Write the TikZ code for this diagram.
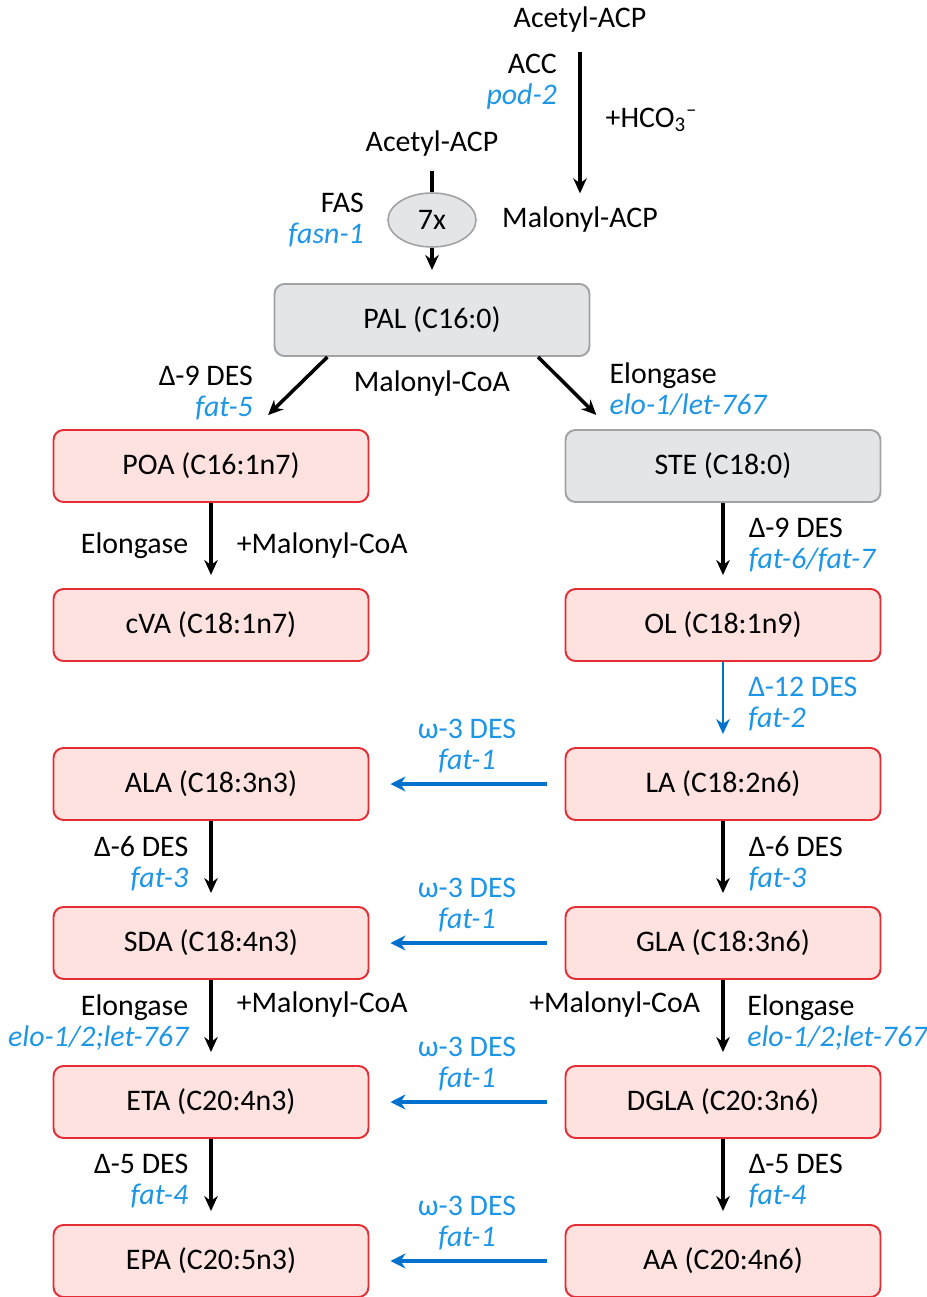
\documentclass[tikz,border=0pt]{standalone}
\usepackage{fontspec}
\setmainfont{Carlito}
\usetikzlibrary{arrows.meta,positioning,calc,shapes.geometric}

\definecolor{boxred}{RGB}{228,45,52}
\definecolor{boxpink}{RGB}{253,226,223}
\definecolor{boxgray}{RGB}{228,229,231}
\definecolor{linegray}{RGB}{160,162,165}
\definecolor{geneblue}{RGB}{30,150,230}
\definecolor{arrowblue}{RGB}{0,114,206}
\newcommand{\gene}[1]{{\color{geneblue}\itshape #1}}

\tikzset{
  acid/.style={draw=boxred, fill=boxpink, line width=1.1pt, rounded corners=0.2cm,
               minimum width=6.3cm, minimum height=1.44cm, font=\fontsize{17}{17.6}\selectfont},
  sat/.style={acid, draw=linegray, fill=boxgray},
  lbl/.style={font=\fontsize{17}{17.6}\selectfont, inner sep=2pt},
  rxn/.style={-{Stealth[length=0.3cm,width=0.27cm]}, line width=2pt, shorten >=0.26cm},
  omega/.style={-{Stealth[length=0.3cm,width=0.3cm]}, draw=arrowblue, line width=2.6pt,
                shorten <=0.36cm, shorten >=0.42cm}
}

\begin{document}
\begin{tikzpicture}[node distance=3.18cm]
  \useasboundingbox (0,0) rectangle (18.52,-25.94);

  \node[sat]                   (PAL)                                        at (8.64,-6.40) {PAL (C16:0)};
  \node[ellipse, draw=linegray, fill=boxgray, line width=0.9pt, lbl,
        minimum width=1.76cm, minimum height=1.08cm] (FASx) [above of=PAL, node distance=2cm] {7x};
  \node[lbl]                   (AcACPlow)  [above of=FASx, node distance=1.52cm]  {Acetyl-ACP};
  \node[lbl]                   (MalACP)    [right of=FASx, node distance=2.96cm]  {Malonyl-ACP};
  \node[lbl]                   (AcACPtop)  [above of=MalACP, node distance=4cm]   {Acetyl-ACP};
  \node[lbl, align=right]      (FASlbl)    [left=0.39cm of FASx]                  {FAS\\\gene{fasn-1}};
  \node[lbl]                   (MalCoA)    [below of=PAL, node distance=1.28cm]   {Malonyl-CoA};

  \node[acid]                  (POA)                                        at (4.22,-9.32) {POA (C16:1n7)};
  \node[acid]                  (cVA)       [below of=POA]                         {cVA (C18:1n7)};
  \node[acid]                  (ALA)       [below of=cVA]                         {ALA (C18:3n3)};
  \node[acid]                  (SDA)       [below of=ALA]                         {SDA (C18:4n3)};
  \node[acid]                  (ETA)       [below of=SDA]                         {ETA (C20:4n3)};
  \node[acid]                  (EPA)       [below of=ETA]                         {EPA (C20:5n3)};
  \node[sat]                   (STE)       [right of=POA, node distance=10.24cm]  {STE (C18:0)};
  \node[acid]                  (OL)        [below of=STE]                         {OL (C18:1n9)};
  \node[acid]                  (LA)        [below of=OL]                          {LA (C18:2n6)};
  \node[acid]                  (GLA)       [below of=LA]                          {GLA (C18:3n6)};
  \node[acid]                  (DGLA)      [below of=GLA]                         {DGLA (C20:3n6)};
  \node[acid]                  (AA)        [below of=DGLA]                        {AA (C20:4n6)};

  % acetyl carboxylation and FAS
  \draw[rxn, line width=2.4pt, shorten <=0.3cm, shorten >=0.2cm] (AcACPtop)
        -- node[lbl, align=right, pos=0.27, left=0.35cm] {ACC\\\gene{pod-2}}
           node[lbl, right=0.4cm] {+HCO\textsubscript{3}\textsuperscript{--}} (MalACP);
  \draw[line width=2pt, shorten <=0.2cm] (AcACPlow) -- (FASx);
  \draw[rxn] (FASx) -- (PAL);

  % branches from PAL
  \draw[rxn, shorten >=0.4cm] ($(PAL.south)!0.66!(PAL.south west)$)
        -- node[lbl, align=right, left=0.65cm] {Δ-9 DES\\\gene{fat-5}} ($(POA.north)!0.27!(POA.north east)$);
  \draw[rxn, shorten >=0.4cm] ($(PAL.south)!0.67!(PAL.south east)$)
        -- node[lbl, align=left, right=0.6cm, yshift=0.08cm] {Elongase\\\gene{elo-1/let-767}} ($(STE.north)!0.71!(STE.north west)$);

  \path (POA)  edge[rxn] node[lbl, left=0.35cm] {Elongase}
                         node[lbl, right=0.41cm] {+Malonyl-CoA} (cVA)
        (ALA)  edge[rxn] node[lbl, align=right, left=0.35cm] {Δ-6 DES\\\gene{fat-3}} (SDA)
        (SDA)  edge[rxn] node[lbl, align=right, left=0.35cm] {Elongase\\\gene{elo-1/2;let-767}}
                         node[lbl, right=0.41cm, yshift=0.36cm] {+Malonyl-CoA} (ETA)
        (ETA)  edge[rxn] node[lbl, align=right, left=0.35cm] {Δ-5 DES\\\gene{fat-4}} (EPA)
        (STE)  edge[rxn] node[lbl, align=left, right=0.41cm] {Δ-9 DES\\\gene{fat-6/fat-7}} (OL)
        (OL)   edge[rxn, draw=arrowblue, line width=1.4pt]
                         node[lbl, align=left, right=0.41cm, text=geneblue] {Δ-12 DES\\\gene{fat-2}} (LA)
        (LA)   edge[rxn] node[lbl, align=left, right=0.41cm] {Δ-6 DES\\\gene{fat-3}} (GLA)
        (GLA)  edge[rxn] node[lbl, align=left, right=0.38cm] {Elongase\\\gene{elo-1/2;let-767}}
                         node[lbl, left=0.35cm, yshift=0.36cm] {+Malonyl-CoA} (DGLA)
        (DGLA) edge[rxn] node[lbl, align=left, right=0.41cm] {Δ-5 DES\\\gene{fat-4}} (AA);

  % omega-3 desaturase
  \path (LA)   edge[omega] node[lbl, align=center, above=0.1cm, text=geneblue] {ω-3 DES\\\gene{fat-1}} (ALA)
        (GLA)  edge[omega] node[lbl, align=center, above=0.1cm, text=geneblue] {ω-3 DES\\\gene{fat-1}} (SDA)
        (DGLA) edge[omega] node[lbl, align=center, above=0.1cm, text=geneblue] {ω-3 DES\\\gene{fat-1}} (ETA)
        (AA)   edge[omega] node[lbl, align=center, above=0.1cm, text=geneblue] {ω-3 DES\\\gene{fat-1}} (EPA);
\end{tikzpicture}
\end{document}
